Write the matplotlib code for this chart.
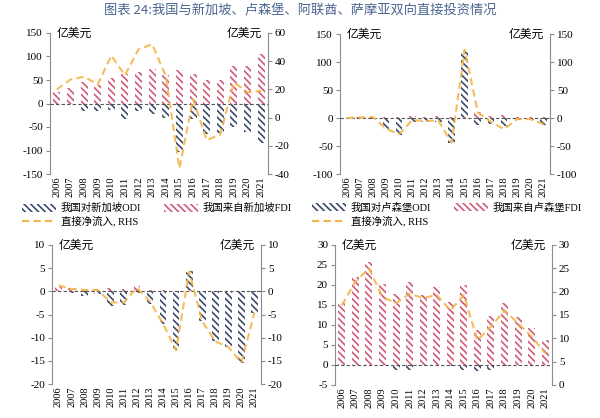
import matplotlib
matplotlib.use("Agg")
import matplotlib.pyplot as plt
from matplotlib.patches import Patch
from matplotlib.lines import Line2D
import numpy as np

plt.rcParams['font.family'] = ['Liberation Serif', 'Noto Sans CJK SC']
plt.rcParams['hatch.linewidth'] = 1.2
plt.rcParams['axes.unicode_minus'] = False

years = [str(y) for y in range(2006, 2022)]

# Singapore
sg_odi = [-2, -2, -16, -16, -13, -34, -16, -22, -30, -104, -33, -65, -63, -49, -61, -84]
sg_fdi = [24, 33, 46, 39, 55, 62, 66, 73, 61, 71, 63, 49, 51, 79, 79, 106]
sg_net = [20, 27, 29, 23.5, 44, 30, 48.5, 52, 29.5, -36, 13, -16, -12, 25, 18, 19]

# Luxembourg
lu_odi = [0, -1, -1, -20, -30, -8, -7, -8, -45, 120, -13, -10, -15, -3, -4, -13]
lu_fdi = [0.5, 1, 2, 1, 1, 4, 2, 3, 1, 2, 10, 3, 5, 1, 2, 2]
lu_net = [0, 1, 2, -19, -29, -4, -5, -5, -44, 122, 10, -7, -20, -2, -2, -11]

# UAE
ae_odi = [0.5, -0.3, -1, -0.5, -3.2, -3, -0.3, -2.7, -7, -12.7, 4.4, -6.4, -10.8, -12, -15.4, -4.6]
ae_fdi = [1, 0.7, 0.5, 0.6, 0.7, 0.5, 1.2, 0.3, 0.2, 0.1, 0.2, 0.1, 0.1, 0.1, 0.1, 0.1]
ae_net = [1.3, 0.5, 0.3, 0.3, -2.4, -2.4, 0.8, -2.2, -7, -12.7, 4.3, -6.5, -10.8, -12, -15.4, -4.6]

# Samoa
ws_odi = [0, 0, 0, 0, -1.2, -1.3, -0.3, 0, -0.2, -1.3, -1.5, -1.2, -0.2, 0, 0, 0]
ws_fdi = [15.4, 22, 25.8, 20.2, 17.8, 20.8, 17.5, 19.4, 15.8, 20, 8.8, 12.3, 15.4, 12.1, 9.3, 6.3]
ws_net = [17.1, 22.1, 25, 18.9, 17.5, 19.6, 18.6, 19.3, 16, 19.3, 9.6, 12.5, 16, 13.2, 10.4, 6.8]

ODI_C = '#3b4a6b'
FDI_C = '#cf5a78'
LINE_C = '#F3B64B'
SPINE_C = '#8c8c8c'
HATCH = '\\\\\\\\\\'

fig = plt.figure(figsize=(6.0, 4.18), dpi=100)

fig.text(0.5, 0.975, '图表 24:我国与新加坡、卢森堡、阿联酋、萨摩亚双向直接投资情况',
         ha='center', va='center', fontsize=9.5, color='#4a6590',
         family=['Noto Sans CJK SC'])


def panel(rect, odi, fdi, net, lylim, lyticks, rylim, ryticks, legend_names=None, leg_anchor=None):
    ax = fig.add_axes(rect)
    x = np.arange(len(years))
    ax.bar(x, odi, width=0.52, facecolor='white', edgecolor=ODI_C, linewidth=0, hatch=HATCH, zorder=2)
    ax.bar(x, fdi, width=0.52, facecolor='white', edgecolor=FDI_C, linewidth=0, hatch=HATCH, zorder=2)
    ax.axhline(0, color='#555555', lw=0.8, ls=(0, (3, 2)), zorder=3)
    ax.set_xlim(-0.5, len(years) - 0.5)
    ax.set_ylim(*lylim)
    ax.set_yticks(lyticks)
    ax.set_xticks(x)
    ax.set_xticklabels(years, rotation=90, fontsize=7.5)
    ax.tick_params(axis='x', length=0, pad=2)
    ax.tick_params(axis='y', labelsize=8, length=3, color=SPINE_C, pad=2)
    for s in ['top', 'bottom', 'right']:
        ax.spines[s].set_visible(False)
    ax.spines['left'].set_color(SPINE_C)
    ax.patch.set_alpha(0)

    ax2 = ax.twinx()
    ax2.plot(x, net, color=LINE_C, lw=1.5, ls=(0, (3.5, 2)), zorder=4, alpha=0.9)
    ax2.set_ylim(*rylim)
    ax2.set_yticks(ryticks)
    ax2.tick_params(axis='y', labelsize=8, length=3, color=SPINE_C, pad=2)
    for s in ['top', 'bottom', 'left']:
        ax2.spines[s].set_visible(False)
    ax2.spines['right'].set_color(SPINE_C)

    ax.text(0.03, 1.0, '亿美元', transform=ax.transAxes, ha='left', va='center',
            fontsize=8.5, family=['Noto Sans CJK SC'])
    ax.text(0.97, 1.0, '亿美元', transform=ax.transAxes, ha='right', va='center',
            fontsize=8.5, family=['Noto Sans CJK SC'])

    if legend_names:
        h_odi = Patch(facecolor='white', edgecolor=ODI_C, hatch=HATCH, linewidth=0)
        h_fdi = Patch(facecolor='white', edgecolor=FDI_C, hatch=HATCH, linewidth=0)
        h_net = Line2D([], [], color=LINE_C, lw=1.5, ls=(0, (3.5, 2)))
        fig.legend([h_odi, h_net, h_fdi],
                   [legend_names[0], '直接净流入, RHS', legend_names[1]],
                   ncol=2, loc='upper left', bbox_to_anchor=leg_anchor,
                   frameon=False, fontsize=7.5, handlelength=3.3, handleheight=0.8,
                   columnspacing=2.2, labelspacing=0.25, handletextpad=0.4,
                   borderaxespad=0, borderpad=0)
    return ax, ax2


panel([50/600, 1-174/418, 218/600, 141/418], sg_odi, sg_fdi, sg_net,
      (-150, 150), [-150, -100, -50, 0, 50, 100, 150],
      (-40, 60), [-40, -20, 0, 20, 40, 60],
      ['我国对新加坡ODI', '我国来自新加坡FDI'], (22/600, 1-203/418))

panel([340/600, 1-174/418, 210/600, 140/418], lu_odi, lu_fdi, lu_net,
      (-100, 150), [-100, -50, 0, 50, 100, 150],
      (-100, 150), [-100, -50, 0, 50, 100, 150],
      ['我国对卢森堡ODI', '我国来自卢森堡FDI'], (312/600, 1-203/418))

panel([52/600, 1-384/418, 209/600, 139/418], ae_odi, ae_fdi, ae_net,
      (-20, 10), [-20, -15, -10, -5, 0, 5, 10],
      (-20, 10), [-20, -15, -10, -5, 0, 5, 10])

panel([335/600, 1-385/418, 217/600, 140/418], ws_odi, ws_fdi, ws_net,
      (-5, 30), [-5, 0, 5, 10, 15, 20, 25, 30],
      (0, 30), [0, 5, 10, 15, 20, 25, 30])

fig.savefig('out.png', dpi=100)
